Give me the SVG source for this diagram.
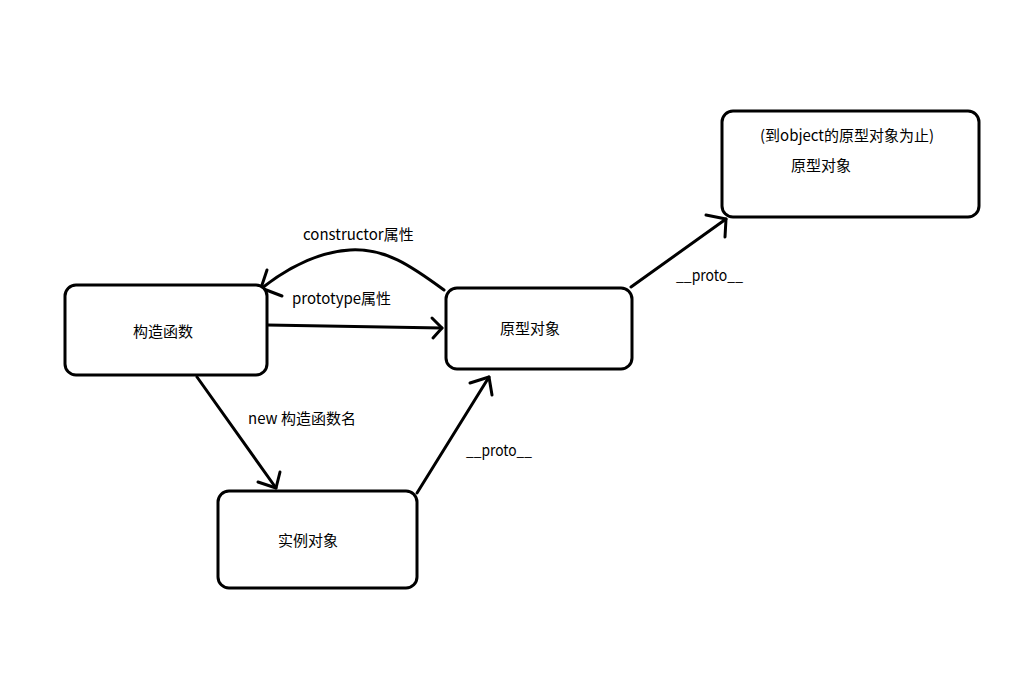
<svg xmlns="http://www.w3.org/2000/svg" width="1012" height="676" viewBox="0 0 1012 676">
<style>
.box{fill:#fff;stroke:#000;stroke-width:3}
.ln{fill:none;stroke:#000;stroke-width:3;stroke-linecap:round;stroke-linejoin:round}
text{font-family:"Noto Sans CJK SC","Noto Sans",sans-serif;font-size:15px;fill:#000}
</style>
<rect width="1012" height="676" fill="#fff"/>
<g id="connectors">
<path class="ln" d="M444,290 C410,265 385,248 350,250 C315,252 285,270 262,288"/>
<path class="ln" d="M267,270 L261,288 L282,296"/>
<text x="303" y="240">constructor属性</text>
<path class="ln" d="M267,325 L442,328"/>
<path class="ln" d="M432,318 L442,328 L433,338"/>
<text x="292" y="304">prototype属性</text>
<path class="ln" d="M197,377 L276,488"/>
<path class="ln" d="M280,472 L276,488 L258,482"/>
<text x="248" y="424">new 构造函数名</text>
<path class="ln" d="M417,493 L489,377"/>
<path class="ln" d="M470,383 L489,377 L492,395"/>
<text x="466" y="456" textLength="66" lengthAdjust="spacingAndGlyphs">__proto__</text>
<path class="ln" d="M631,287 L726,219"/>
<path class="ln" d="M706,215 L726,219 L725,237"/>
<text x="676" y="281" textLength="67" lengthAdjust="spacingAndGlyphs">__proto__</text>
</g>
<g id="node-constructor">
<rect class="box" x="65" y="285" width="202" height="90" rx="11"/>
<text x="163" y="337" text-anchor="middle">构造函数</text>
</g>
<g id="node-prototype">
<rect class="box" x="446" y="288" width="186" height="81" rx="11"/>
<text x="530" y="334" text-anchor="middle">原型对象</text>
</g>
<g id="node-top-prototype">
<rect class="box" x="722" y="111" width="257" height="106" rx="11"/>
<text x="760" y="141">(到object的原型对象为止)</text>
<text x="791" y="171">原型对象</text>
</g>
<g id="node-instance">
<rect class="box" x="218" y="491" width="199" height="97" rx="11"/>
<text x="308" y="546" text-anchor="middle">实例对象</text>
</g>
</svg>
